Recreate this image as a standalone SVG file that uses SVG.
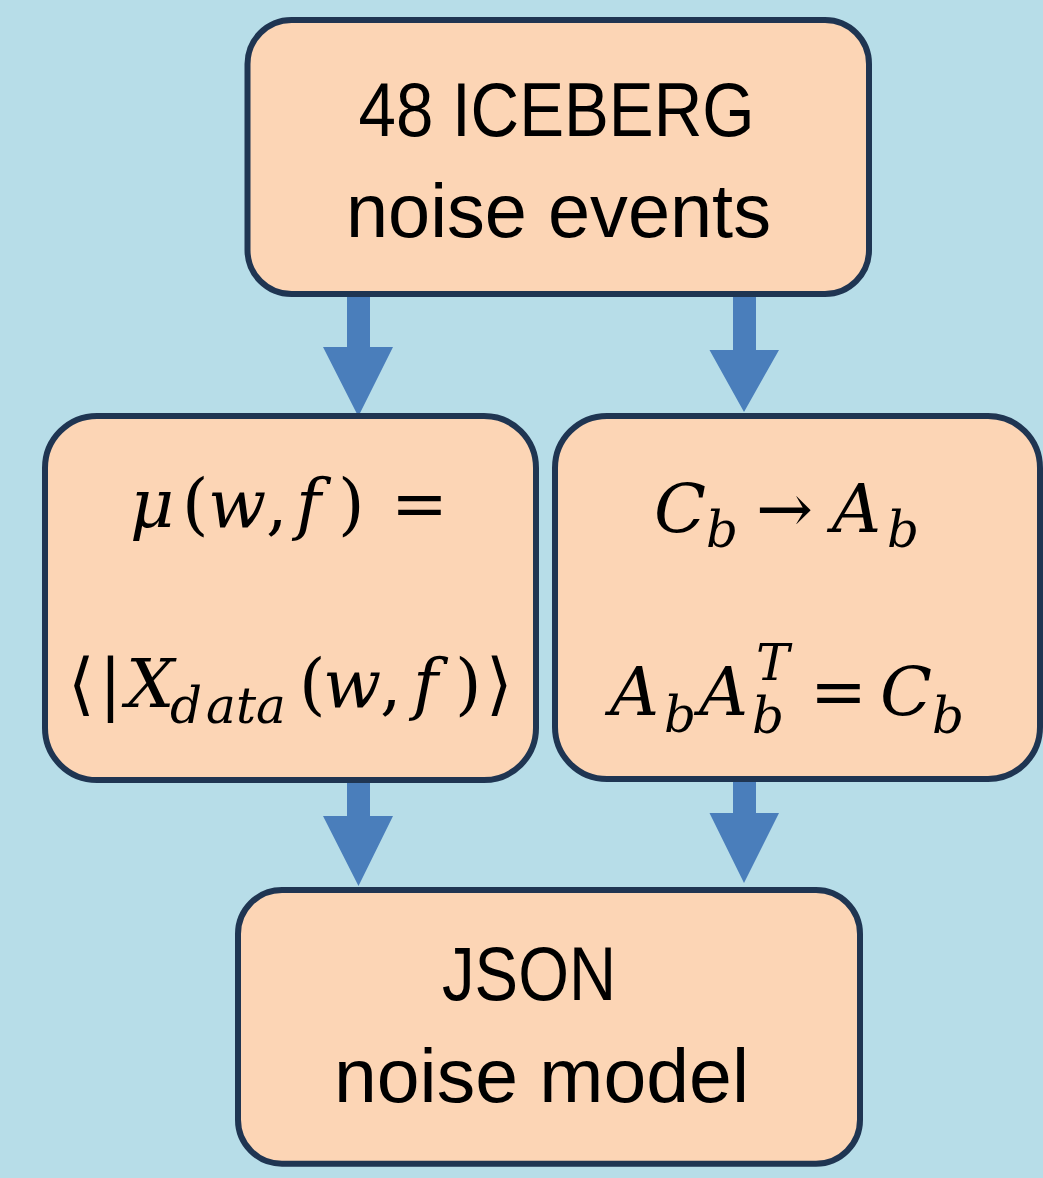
<svg xmlns="http://www.w3.org/2000/svg" width="1043" height="1178" viewBox="0 0 1043 1178">
  <style>
    .box { fill: #fcd5b5; stroke: #1f3552; stroke-width: 6; }
    .arrow { fill: #4a7ebb; stroke: none; }
    .lbl { font-family: "Liberation Sans", Arial, sans-serif; font-size: 76px; fill: #000; }
    .m { font-family: "DejaVu Serif", "Liberation Serif", serif; font-size: 68px; fill: #000; }
    .i { font-style: italic; }
    .s { font-size: 50px; font-style: italic; }
  </style>
  <rect x="0" y="0" width="1043" height="1178" fill="#b7dde8"/>

  <g id="connectors">
    <polygon class="arrow" points="347,294 370,294 370,347 393,347 358.3,416.5 323,347 347,347"/>
    <polygon class="arrow" points="733,294 756,294 756,350 779,350 744,412 709.5,350 733,350"/>
    <polygon class="arrow" points="347,779 370,779 370,816 393,816 358.5,886 323,816 347,816"/>
    <polygon class="arrow" points="733,778 756,778 756,813 779,813 744,883 709.5,813 733,813"/>
  </g>

  <g id="node-events">
    <rect class="box" x="247.5" y="20" width="621.5" height="274" rx="44" ry="44"/>
    <text class="lbl" x="358.5" y="135.7" textLength="396" lengthAdjust="spacingAndGlyphs">48 ICEBERG</text>
    <text class="lbl" x="346" y="236.7" textLength="425" lengthAdjust="spacingAndGlyphs">noise events</text>
  </g>

  <g id="node-mean">
    <rect class="box" x="45" y="416" width="491" height="364" rx="52" ry="52"/>
    <text class="m" y="527"><tspan class="i" x="130">μ</tspan><tspan x="182">(</tspan><tspan class="i" x="208">w</tspan><tspan x="266">,</tspan><tspan class="i" x="296">f</tspan><tspan x="338">)</tspan><tspan x="391">=</tspan></text>
    <text class="m" y="707"><tspan x="68">⟨</tspan><tspan x="99">|</tspan><tspan class="i" x="126">X</tspan><tspan class="s" x="170 206 236 256" y="723">data</tspan><tspan x="299" y="707">(</tspan><tspan class="i" x="323">w</tspan><tspan x="380">,</tspan><tspan class="i" x="413">f</tspan><tspan x="455">)</tspan><tspan x="486">⟩</tspan></text>
  </g>

  <g id="node-cov">
    <rect class="box" x="555" y="416" width="485" height="363" rx="52" ry="52"/>
    <text class="m" y="532"><tspan class="i" x="654">C</tspan><tspan class="s" x="706" y="547">b</tspan><tspan x="756" y="532">→</tspan><tspan class="i" x="832">A</tspan><tspan class="s" x="887" y="547">b</tspan></text>
    <text class="m" y="715"><tspan class="i" x="610">A</tspan><tspan class="s" x="664" y="732">b</tspan><tspan class="i" x="699" y="715">A</tspan><tspan class="s" x="756" y="680">T</tspan><tspan class="s" x="752" y="733">b</tspan><tspan x="810" y="715">=</tspan><tspan class="i" x="880">C</tspan><tspan class="s" x="932" y="733">b</tspan></text>
  </g>

  <g id="node-json">
    <rect class="box" x="238" y="890" width="622" height="273.7" rx="44" ry="44"/>
    <text class="lbl" x="442" y="1000" textLength="174" lengthAdjust="spacingAndGlyphs">JSON</text>
    <text class="lbl" x="334" y="1101.7" textLength="415" lengthAdjust="spacingAndGlyphs">noise model</text>
  </g>
</svg>
